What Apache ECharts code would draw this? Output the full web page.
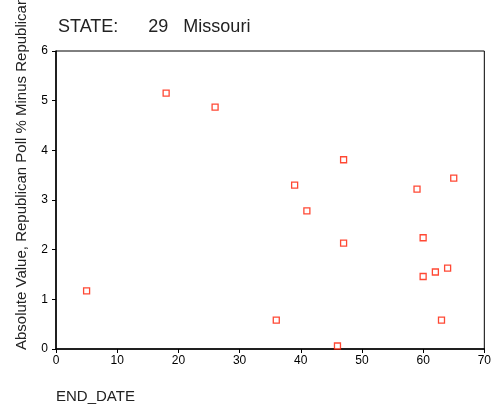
<!DOCTYPE html>
<html>
<head>
<meta charset="utf-8">
<script src="https://cdn.jsdelivr.net/npm/echarts@6/dist/echarts.min.js"></script>
<style>
html,body{margin:0;padding:0;background:#fff;}
#chart{width:494px;height:413px;}
</style>
</head>
<body>
<div id="chart"></div>
<script>
var endDate = [5, 18, 26, 36, 39, 41, 46, 47, 47, 59, 60, 60, 62, 63, 64, 65];
var absDiff = [1.17, 5.15, 4.87, 0.58, 3.30, 2.78, 0.06, 3.81, 2.13, 3.22, 2.24, 1.46, 1.55, 0.58, 1.63, 3.44];
var titleText = 'STATE:      29   Missouri';
var xName = 'END_DATE';
var yName = 'Absolute Value, Republican Poll % Minus Republican Vote %';

var pts = endDate.map(function (x, i) { return [x, absDiff[i]]; });
var chart = echarts.init(document.getElementById('chart'), null, {renderer: 'canvas'});
var font = 'Arial, "Liberation Sans", sans-serif';
chart.setOption({
  animation: false,
  backgroundColor: '#fff',
  grid: {left: 56, top: 51, width: 429, height: 298, show: true, borderColor: '#000', borderWidth: 1, backgroundColor: 'transparent'},
  xAxis: {
    type: 'value', min: 0, max: 70, interval: 10,
    axisLine: {show: true, lineStyle: {color: '#000', width: 1.5}},
    axisTick: {show: true, length: 4, lineStyle: {color: '#000'}},
    axisLabel: {color: '#000', fontSize: 12, fontFamily: font, margin: 6},
    splitLine: {show: false}
  },
  yAxis: {
    type: 'value', min: 0, max: 6, interval: 1,
    axisLine: {show: true, lineStyle: {color: '#000', width: 1.5}},
    axisTick: {show: true, length: 4, lineStyle: {color: '#000'}},
    axisLabel: {color: '#000', fontSize: 12, fontFamily: font, margin: 8},
    splitLine: {show: false}
  },
  graphic: [
    {type: 'text', left: 58, top: 18, style: {text: titleText, fontSize: 18, fontFamily: font, fill: '#222'}},
    {type: 'text', left: 56, top: 389, style: {text: xName, fontSize: 15, fontFamily: font, fill: '#222'}},
    {type: 'text', x: 22, y: 350, rotation: Math.PI / 2, style: {text: yName, fontSize: 15, fontFamily: font, fill: '#222', textAlign: 'left', textVerticalAlign: 'middle'}}
  ],
  series: [{
    type: 'scatter',
    data: pts,
    symbol: 'rect',
    symbolSize: 6,
    itemStyle: {color: '#fff', borderColor: '#ff1a00', borderWidth: 1.3}
  }]
});
</script>
</body>
</html>
